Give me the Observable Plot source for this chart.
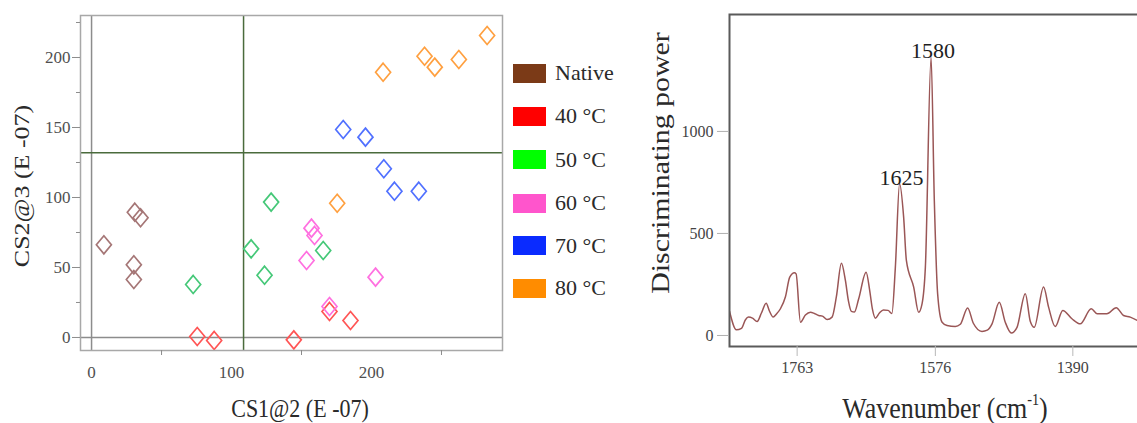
<!DOCTYPE html>
<html>
<head>
<meta charset="utf-8">
<script src="https://cdn.jsdelivr.net/npm/d3@7"></script>
<script src="https://cdn.jsdelivr.net/npm/@observablehq/plot@0.6"></script>
<style>
  html, body { margin: 0; padding: 0; background: #fff; overflow: hidden; }
  #root { position: relative; width: 1137px; height: 423px; overflow: hidden;
          font-family: "Liberation Serif", "DejaVu Serif", serif; color: #222; }
  #root svg text { font-family: "Liberation Serif", "DejaVu Serif", serif !important; }
  .title { position: absolute; white-space: nowrap; line-height: 1; color: #2a2a2a; }
  .sw { position: absolute; width: 33px; height: 19px; }
  .lg { position: absolute; font-size: 22px; line-height: 1; color: #2a2a2a; white-space: nowrap; }
  sup { font-size: 0.55em; vertical-align: 0.8em; line-height: 0; }
</style>
</head>
<body>
<div id="root"></div>
<script>
// ---------- Data: PCA-like scatter ----------
const groups = ["Native", "40 °C", "50 °C", "60 °C", "70 °C", "80 °C"];
const legendColors = ["#7b3a17", "#ff0000", "#00ff00", "#ff55cc", "#0a2bff", "#ff8c00"];
const markerColors = ["#a57676", "#ff5555", "#45c878", "#ff70e0", "#5070ff", "#ffa040"];

const sampleGroup = [0,0,0,0,0, 1,1,1,1,1, 2,2,2,2,2, 3,3,3,3,3, 4,4,4,4,4, 5,5,5,5,5,5];
const cs1 = [8.8, 30.9, 35, 30.2, 30.2,
             75.5, 87.6, 144.5, 170, 185,
             72.6, 114, 123.6, 128.3, 165.5,
             157.1, 159.3, 153.6, 202.9, 170,
             179.8, 195.7, 208.8, 216.4, 233.8,
             208.3, 237.9, 245.2, 262.4, 282.6, 175.5];
const cs2 = [66.2, 89.5, 85.5, 51.9, 41.4,
             0.7, -2.1, -1.7, 18.6, 12.1,
             37.9, 63.3, 44.5, 96.7, 62.1,
             78.1, 72.9, 55, 43.1, 22.1,
             148.6, 143.1, 120.5, 104.5, 104.5,
             189.5, 200.9, 193.1, 198.6, 215.7, 95.9];
const refX = [108.6];
const refY = [132];
const xMajorTicks = [0, 100, 200];
const xMinorTicks = [50, 150, 250];
const yMajorTicks = [0, 50, 100, 150, 200];
const yMinorTicks = [25, 75, 125, 175, 225];

// ---------- Data: discriminating power spectrum ----------
const wavenumber = [1854.5, 1845.1, 1838.3, 1832.9, 1828.8, 1823.4, 1817.1, 1811.3, 1804.9, 1800.5,
  1795.4, 1791, 1785.6, 1778.8, 1773, 1766.7, 1764.4, 1758.5, 1751.8, 1745,
  1739.6, 1733.8, 1728.8, 1722.4, 1715.7, 1709.9, 1703.1, 1697.7, 1693.6, 1689.6,
  1685.5, 1679.7, 1669.7, 1664.8, 1661.2, 1657.1, 1651.7, 1646.3, 1640, 1634.8,
  1630.1, 1624.4, 1618.9, 1615.2, 1605.3, 1598.6, 1594, 1589.5, 1581.8, 1577.4,
  1572.9, 1566.9, 1560.2, 1549, 1542.2, 1532.3, 1524.6, 1512.9, 1505.7, 1499.3,
  1489.5, 1481.4, 1473.2, 1465.5, 1454.3, 1447.6, 1442.2, 1429.6, 1422.8, 1413.8,
  1403.6, 1391.2, 1380, 1365.1, 1357, 1343.9, 1331.3, 1321.4, 1312.3, 1302.9];
const power = [119, 28, 35, 77, 90, 85, 69, 110, 158, 120,
  90, 105, 131, 190, 286, 307, 302, 65, 100, 114,
  108, 98, 95, 78, 90, 190, 354, 270, 170, 118,
  115, 180, 310, 220, 130, 85, 110, 125, 123, 108,
  335, 744, 580, 368, 237, 114, 155, 335, 1364, 662,
  204, 65, 49, 44, 55, 135, 60, 20, 26, 57,
  163, 65, 12, 40, 205, 70, 40, 237, 139, 44,
  123, 82, 57, 131, 106, 106, 136, 98, 90, 74];
const peakLabels = ["1625", "1580"];
const peakWavenumber = [1624.4, 1581.8];
const peakPower = [744, 1364];
const specXTicks = [1763, 1576, 1390];
const specYTicks = [0, 500, 1000];

const serif = "Liberation Serif, DejaVu Serif, serif";
const plain = d => String(d);
const none = () => "";
const root = document.getElementById("root");

// custom open diamond (slightly taller than wide)
const diamond = {
  draw(ctx) {
    const w = 7.5, h = 9;
    ctx.moveTo(0, -h); ctx.lineTo(w, 0); ctx.lineTo(0, h); ctx.lineTo(-w, 0); ctx.closePath();
  }
};

// ---------- Left chart ----------
const idx = d3.range(cs1.length);
const left = Plot.plot({
  width: 510, height: 423,
  marginLeft: 80, marginRight: 8, marginTop: 15, marginBottom: 73,
  x: {domain: [-7.9, 293.6]},
  y: {domain: [-9.3, 230]},
  color: {type: "identity"},
  style: {fontFamily: serif, fontSize: "17px", background: "transparent"},
  marks: [
    Plot.ruleX([0], {stroke: "#8c8c8c", strokeWidth: 1.5}),
    Plot.ruleY([0], {stroke: "#8c8c8c", strokeWidth: 1.5}),
    Plot.ruleX(refX, {stroke: "#4a6b3c", strokeWidth: 1.5}),
    Plot.ruleY(refY, {stroke: "#4a6b3c", strokeWidth: 1.5}),
    Plot.dot(idx, {x: i => cs1[i], y: i => cs2[i], stroke: i => markerColors[sampleGroup[i]],
      symbol: diamond, fill: "none", strokeWidth: 1.7}),
    Plot.frame({stroke: "#a8a8a8", strokeWidth: 1.5}),
    Plot.axisY({ticks: yMajorTicks, tickFormat: none, tickSize: 8, stroke: "#8c8c8c", label: null}),
    Plot.axisY({ticks: yMinorTicks, tickFormat: none, tickSize: 4, stroke: "#8c8c8c", label: null}),
    Plot.axisX({ticks: xMinorTicks, tickFormat: none, tickSize: 5, stroke: "#8c8c8c", label: null}),
    Plot.text(yMajorTicks, {y: d => d, text: plain, frameAnchor: "left", textAnchor: "end", dx: -10,
      fontSize: 17, fontFamily: serif, fill: "#505050"}),
    Plot.text(xMajorTicks, {x: d => d, text: plain, frameAnchor: "bottom", lineAnchor: "top", dy: 15,
      fontSize: 17, fontFamily: serif, fill: "#505050"})
  ]
});
left.style.position = "absolute";
left.style.left = "0px";
left.style.top = "0px";
root.appendChild(left);

// ---------- Right chart ----------
const sidx = d3.range(wavenumber.length);
const pidx = d3.range(peakLabels.length);
const right = Plot.plot({
  width: 499, height: 423,
  marginLeft: 89, marginRight: 0, marginTop: 14, marginBottom: 77,
  x: {domain: [1854.5, 1299.8]},
  y: {domain: [-54, 1573]},
  style: {fontFamily: serif, fontSize: "16px", background: "transparent"},
  marks: [
    Plot.line(sidx, {x: i => wavenumber[i], y: i => power[i], stroke: "#9a5656", strokeWidth: 1.5,
      curve: "monotone-x", clip: true}),
    Plot.text(pidx, {x: i => peakWavenumber[i], y: i => peakPower[i], text: i => peakLabels[i],
      lineAnchor: "bottom", dx: 2, dy: 1, fontSize: 22, fontFamily: serif, fill: "#1e1e1e"}),
    Plot.frame({stroke: "#5a5a5a", strokeWidth: 2}),
    Plot.axisY({ticks: specYTicks, tickFormat: none, tickSize: 12, stroke: "#b0b0b0", label: null}),
    Plot.axisX({ticks: specXTicks, tickFormat: none, tickSize: 10, stroke: "#b8b8b8", label: null}),
    Plot.text(specYTicks, {y: d => d, text: plain, frameAnchor: "left", textAnchor: "end", dx: -16,
      fontSize: 16, fontFamily: serif, fill: "#444"}),
    Plot.text(specXTicks, {x: d => d, text: plain, frameAnchor: "bottom", lineAnchor: "top", dy: 15,
      fontSize: 16, fontFamily: serif, fill: "#444"})
  ]
});
right.style.position = "absolute";
right.style.left = "640px";
right.style.top = "0px";
root.appendChild(right);

// ---------- Legend ----------
const legendY = [73, 116, 159.5, 203, 245.5, 288];
groups.forEach((g, i) => {
  const sw = document.createElement("div");
  sw.className = "sw";
  sw.style.left = "513px";
  sw.style.top = (legendY[i] - 9.5) + "px";
  sw.style.background = legendColors[i];
  root.appendChild(sw);
  const t = document.createElement("div");
  t.className = "lg";
  t.textContent = g;
  t.style.left = "555px";
  t.style.top = (legendY[i] - 11) + "px";
  root.appendChild(t);
});

// ---------- Axis titles ----------
function title(html, cx, cy, size, rotate, stretch) {
  const d = document.createElement("div");
  d.className = "title";
  d.innerHTML = html;
  d.style.left = cx + "px";
  d.style.top = cy + "px";
  d.style.fontSize = size + "px";
  d.style.transform = rotate
    ? `translate(-50%, -50%) rotate(-90deg) scaleX(${stretch})`
    : `translate(-50%, -50%) scaleY(${stretch})`;
  root.appendChild(d);
}
title("CS2@3 (E -07)", 22, 186, 22, true, 1.18);
title("CS1@2 (E -07)", 300, 409, 22, false, 1.12);
title("Discriminating power", 661, 163, 26, true, 1.15);
title("Wavenumber (cm<sup>-1</sup>)", 945, 409, 26, false, 1.1);
</script>
</body>
</html>
